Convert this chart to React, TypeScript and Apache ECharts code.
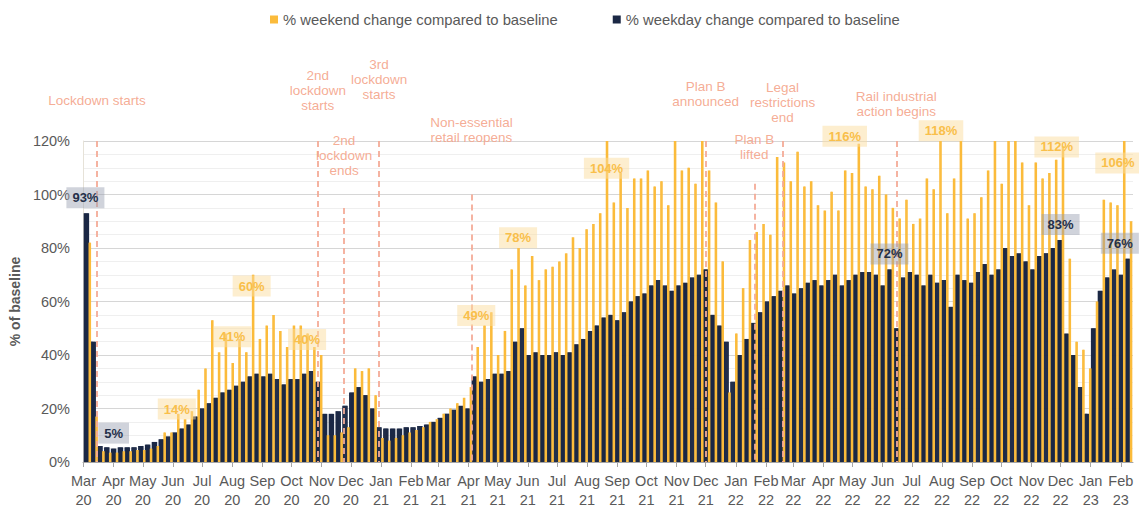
import React, { useEffect, useRef } from 'react';
import * as echarts from 'echarts';

// ---------- DATA ----------
const startDate = '2020-03-01';
const dayCount = 1080; // 2020-03-01 .. 2023-02-13
const monthNames = ['Jan', 'Feb', 'Mar', 'Apr', 'May', 'Jun', 'Jul', 'Aug', 'Sep', 'Oct', 'Nov', 'Dec'];

// weekly values, weeks run Monday..Sunday starting Monday 2020-03-02
const weekdayWeekly: number[] = [
  93, 45, 6, 5.5, 5, 5.5, 5.5, 5.5, 6, 6.5,
  7.5, 8.5, 9.5, 11, 12.5, 14, 17, 20, 22, 24,
  26, 27, 28.5, 30, 32, 33, 32, 33, 31, 29,
  31, 31, 33, 34, 30, 18, 18, 19, 21, 26,
  28, 25, 20, 13, 12.5, 12.5, 12.5, 13, 13, 13.5,
  14, 15, 16.5, 18, 19.5, 21, 20, 32, 30, 31,
  33, 33, 34, 45, 50, 40, 41, 40, 40, 41,
  40, 41, 44, 46, 49, 51, 54, 55, 53, 56,
  60, 62, 63, 66, 68, 66, 64, 66, 67, 69,
  70, 72, 55, 51, 45, 30, 40, 46, 52, 56,
  60, 62, 64, 66, 63, 65, 67, 68, 66, 68,
  70, 66, 68, 70, 71, 71, 70, 66, 72, 50,
  69, 71, 70, 66, 70, 67, 68, 58, 70, 68,
  67, 71, 74, 70, 72, 80, 77, 78, 75, 72,
  77, 78, 80, 83, 48, 40, 28, 18, 50, 64,
  69, 72, 70, 76,
];

const weekendWeekly: number[] = [
  82, 17, 4, 3.5, 3.5, 4, 4, 4.5, 4.5, 5,
  6, 11, 11, 18, 16, 19, 27, 35, 53, 41,
  48, 37, 46, 41, 70, 46, 51, 55, 49, 43,
  51, 51, 48, 43, 40, 10, 10, 11, 13, 35,
  34, 35, 25, 9, 8, 9, 10, 11, 12, 13,
  15, 16, 18, 20, 22, 24, 28, 43, 51, 56,
  40, 49, 72, 80, 66, 77, 68, 72, 73, 75,
  78, 84, 80, 87, 89, 93, 125, 97, 108, 95,
  106, 106, 109, 103, 105, 96, 125, 109, 110, 104,
  125, 109, 97, 75, 26, 48, 65, 83, 86, 89,
  85, 114, 112, 105, 116, 103, 105, 96, 94, 101,
  94, 109, 108, 119, 103, 102, 107, 100, 95, 91,
  98, 89, 91, 106, 102, 125, 93, 106, 125, 91,
  93, 99, 109, 125, 104, 125, 125, 112, 96, 112,
  106, 108, 113, 118, 76, 45, 42, 35, 60, 98,
  97, 96, 125, 90,
];

const annotationDates = ['2020-03-15', '2020-10-28', '2020-11-24', '2020-12-30', '2021-04-04', '2021-12-01', '2022-01-20', '2022-02-18', '2022-06-15'];
const annotationTexts = [
  'Lockdown starts',
  '2nd\nlockdown\nstarts',
  '2nd\nlockdown\nends',
  '3rd\nlockdown\nstarts',
  'Non-essential\nretail reopens',
  'Plan B\nannounced',
  'Plan B\nlifted',
  'Legal\nrestrictions\nend',
  'Rail industrial\naction begins',
];
const annotationLineTops = [120, 120, 95, 120, 100, 120, 104, 120, 120];

const weekendLabelDates = ['2020-06-05', '2020-08-01', '2020-08-21', '2020-10-17', '2021-04-09', '2021-05-22', '2021-08-21', '2022-04-23', '2022-07-31', '2022-11-27', '2023-01-29'];
const weekendLabelValues = [14, 41, 60, 40, 49, 78, 104, 116, 118, 112, 106];
const weekdayLabelDates = ['2020-03-03', '2020-04-01', '2022-06-08', '2022-12-01', '2023-01-31'];
const weekdayLabelValues = [93, 5, 72, 83, 76];

// ---------- STYLE ----------
const NAVY = '#1b2845';
const YELLOW = '#fbbb3b';
const SALMON_TEXT = '#f4a389';
const SALMON_LINE = '#f4ab97';
const AXIS_TEXT = '#595959';
const FONT = '"Liberation Sans", Arial, sans-serif';
const annotationTextGaps = [33, 28, 30, 39, 50, 32, 22, 16, 22];

const DAY_MS = 86400000;

function buildCategories(): string[] {
  const [y, m, d] = startDate.split('-').map(Number);
  const t0 = Date.UTC(y, m - 1, d);
  const out: string[] = [];
  for (let i = 0; i < dayCount; i++) out.push(new Date(t0 + i * DAY_MS).toISOString().slice(0, 10));
  return out;
}

export default function App() {
  const ref = useRef<HTMLDivElement>(null);

  useEffect(() => {
    if (!ref.current) return;
    const chart = echarts.init(ref.current, undefined, { renderer: 'svg' });
    const categories = buildCategories();

    // map weekly values onto the daily category axis (day 0 is a Sunday before week 0)
    const weekdayDaily = categories.map((_, i) => {
      if (i < 1) return null;
      const w = Math.floor((i - 1) / 7);
      const p = (i - 1) % 7;
      if (w >= weekdayWeekly.length) return null;
      return p < 5 ? weekdayWeekly[w] : null;
    });
    const weekendDaily = categories.map((_, i) => {
      if (i < 1) return null;
      const w = Math.floor((i - 1) / 7);
      const p = (i - 1) % 7;
      if (w >= weekendWeekly.length) return null;
      return p >= 5 ? weekendWeekly[w] : null;
    });

    const labelBase = {
      show: true,
      position: 'inside',
      offset: [0, -15.5],
      fontSize: 13,
      fontWeight: 'bold',
      fontFamily: FONT,
      padding: [3, 6],
      lineHeight: 15,
      formatter: '{c}%',
    };

    const markPointData = [
      ...weekendLabelDates.map((d, i) => ({
        coord: [d, weekendLabelValues[i]],
        value: weekendLabelValues[i],
        label: { ...labelBase, color: '#f9bf4a', backgroundColor: 'rgba(251,222,160,0.5)' },
      })),
      ...weekdayLabelDates.map((d, i) => ({
        coord: [d, weekdayLabelValues[i]],
        value: weekdayLabelValues[i],
        label: { ...labelBase, color: '#24304a', backgroundColor: 'rgba(150,158,176,0.45)' },
      })),
    ];

    const markLineData = annotationDates.map((d, i) => [
      {
        coord: [d, annotationLineTops[i]],
        label: {
          show: true,
          position: 'start',
          distance: annotationTextGaps[i],
          formatter: annotationTexts[i],
          color: SALMON_TEXT,
          fontSize: 13.5,
          lineHeight: 15,
          fontFamily: FONT,
          align: 'center',
        },
      },
      { coord: [d, 0] },
    ]);

    chart.setOption({
      animation: false,
      textStyle: { fontFamily: FONT },
      legend: {
        data: ['% weekend change compared to baseline', '% weekday change compared to baseline'],
        left: 265,
        top: 7,
        icon: 'rect',
        itemWidth: 8,
        itemHeight: 8,
        itemGap: 55,
        textStyle: { color: AXIS_TEXT, fontSize: 14.8, fontFamily: FONT },
        selectedMode: false,
      },
      grid: { left: 82, right: 6, top: 141, bottom: 43, containLabel: false },
      xAxis: {
        type: 'category',
        data: categories,
        boundaryGap: true,
        axisLine: { lineStyle: { color: '#a6a6a6', width: 1 } },
        axisTick: {
          show: true,
          alignWithLabel: true,
          length: 5,
          lineStyle: { color: '#a6a6a6' },
          interval: (_i: number, v: string) => v.endsWith('-01'),
        },
        axisLabel: {
          interval: (_i: number, v: string) => v.endsWith('-01'),
          formatter: (v: string) => {
            const [y, m] = v.split('-');
            return monthNames[Number(m) - 1] + '\n' + y.slice(2);
          },
          color: AXIS_TEXT,
          fontSize: 14.5,
          lineHeight: 19,
          margin: 9,
          fontFamily: FONT,
        },
        splitLine: { show: false },
      },
      yAxis: {
        type: 'value',
        min: 0,
        max: 120,
        interval: 20,
        name: '% of baseline',
        nameLocation: 'middle',
        nameRotate: 90,
        nameGap: 58,
        nameTextStyle: { color: AXIS_TEXT, fontSize: 14, fontWeight: 'bold', fontFamily: FONT },
        axisLabel: { formatter: '{value}%', color: AXIS_TEXT, fontSize: 14.5, margin: 13, fontFamily: FONT },
        axisLine: { show: true, lineStyle: { color: '#e6e2d8' } },
        axisTick: { show: false },
        splitLine: { show: true, lineStyle: { color: '#d6d6d6', width: 1 } },
        minorTick: { show: false, splitNumber: 4 },
        minorSplitLine: { show: true, lineStyle: { color: '#efefef', width: 1 } },
      },
      series: [
        {
          name: '% weekday change compared to baseline',
          type: 'bar',
          data: weekdayDaily,
          barWidth: 1.6,
          barGap: '-100%',
          itemStyle: { color: NAVY },
          emphasis: { disabled: true },
          silent: true,
        },
        {
          name: '% weekend change compared to baseline',
          type: 'bar',
          data: weekendDaily,
          barWidth: 1.6,
          barGap: '-100%',
          itemStyle: { color: YELLOW },
          emphasis: { disabled: true },
          silent: true,
        },
        {
          name: 'annotations',
          type: 'line',
          data: [],
          clip: false,
          silent: true,
          z: 5,
          markLine: {
            silent: true,
            symbol: ['none', 'none'],
            lineStyle: { color: SALMON_LINE, type: [6, 4], width: 2, opacity: 0.9 },
            emphasis: { disabled: true },
            data: markLineData,
          },
          markPoint: {
            silent: true,
            symbol: 'circle',
            symbolSize: 1,
            itemStyle: { color: 'rgba(0,0,0,0)' },
            data: markPointData,
          },
        },
      ],
    });

    return () => chart.dispose();
  }, []);

  return (
    <div
      ref={ref}
      style={{ position: 'fixed', left: 0, top: 0, width: 1139, height: 509, background: '#ffffff' }}
    />
  );
}
